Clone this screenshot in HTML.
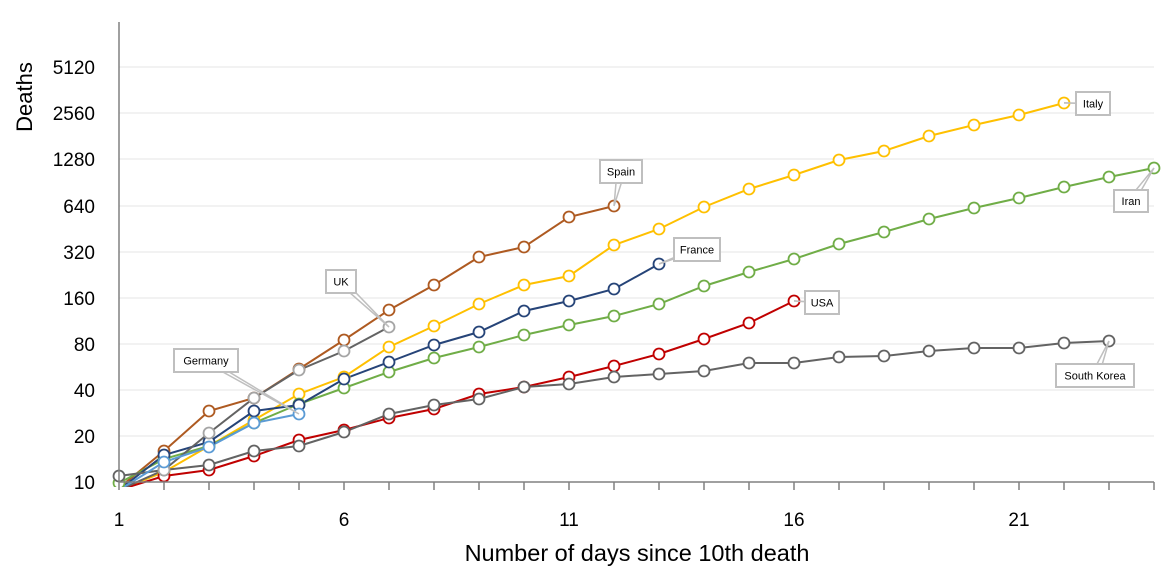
<!DOCTYPE html>
<html><head><meta charset="utf-8"><style>
body{margin:0;background:#fff;}
svg{display:block;font-family:"Liberation Sans",sans-serif;}
</style></head><body>
<svg id="c" width="1176" height="576" xmlns="http://www.w3.org/2000/svg">
<defs><clipPath id="pc"><rect x="100" y="0" width="1076" height="487"/></clipPath></defs>
<g stroke="#ebebeb" stroke-width="1.3">
<line x1="119" x2="1154" y1="436" y2="436"/><line x1="119" x2="1154" y1="390" y2="390"/>
<line x1="119" x2="1154" y1="344" y2="344"/><line x1="119" x2="1154" y1="298" y2="298"/>
<line x1="119" x2="1154" y1="252" y2="252"/><line x1="119" x2="1154" y1="206" y2="206"/>
<line x1="119" x2="1154" y1="159" y2="159"/><line x1="119" x2="1154" y1="113" y2="113"/>
<line x1="119" x2="1154" y1="67" y2="67"/>
</g>
<g font-size="19" fill="#000" text-anchor="end">
<text x="95" y="489">10</text><text x="95" y="443">20</text><text x="95" y="397">40</text>
<text x="95" y="351">80</text><text x="95" y="305">160</text><text x="95" y="259">320</text>
<text x="95" y="213">640</text><text x="95" y="166">1280</text><text x="95" y="120">2560</text>
<text x="95" y="74">5120</text>
</g>
<g font-size="19" text-anchor="middle">
<text x="119" y="526">1</text><text x="344" y="526">6</text><text x="569" y="526">11</text>
<text x="794" y="526">16</text><text x="1019" y="526">21</text>
</g>
<text x="637" y="561" font-size="23.5" text-anchor="middle">Number of days since 10th death</text>
<text transform="translate(32,97) rotate(-90)" font-size="22" text-anchor="middle">Deaths</text>
<g id="series" clip-path="url(#pc)"></g>
<g stroke="#808080" stroke-width="1.5" id="ax">
<line x1="119" y1="22" x2="119" y2="482"/>
<line x1="119" y1="482" x2="1154" y2="482"/>
</g>
<g id="labels"></g>
</svg>
<script>
var S=[
["#ae5a21","#ae5a21",[488,451,411,398,369,340,310,285,257,247,217,206]],
["#ffc000","#ffc000",[490,472,446,420,394,377,347,326,304,285,276,245,229,207,189,175,160,151,136,125,115,103]],
["#70ad47","#70ad47",[483,459,446,423,404,388,372,358,347,335,325,316,304,286,272,259,244,232,219,208,198,187,177,168]],
["#264478","#264478",[490,455,442,411,405,379,362,345,332,311,301,289,264]],
["#c00000","#c00000",[490,476,470,456,440,430,418,409,394,387,377,366,354,339,323,301]],
["#636363","#636363",[476,470,465,451,446,432,414,405,399,387,384,377,374,371,363,363,357,356,351,348,348,343,341]],
["#636363","#a5a5a5",[490,470,433,398,370,351,327]],
["#5b9bd5","#5b9bd5",[490,462,447,423,414]]
];
var NS="http://www.w3.org/2000/svg",g=document.getElementById("series");
function el(n,a,p){var e=document.createElementNS(NS,n);for(var k in a)e.setAttribute(k,a[k]);(p||g).appendChild(e);return e;}
var ax=document.getElementById("ax");
for(var d=1;d<=24;d++){var x=119+45*(d-1);el("line",{x1:x,x2:x,y1:482,y2:490},ax);}
S.forEach(function(s){
 var pts=s[2].map(function(y,i){return (119+45*i)+","+y;}).join(" ");
 el("polyline",{points:pts,fill:"none",stroke:s[0],"stroke-width":2});
});
S.forEach(function(s){
 s[2].forEach(function(y,i){ if(y>=488&&i==0)return; el("circle",{cx:119+45*i,cy:y,r:5.5,fill:"#fff",stroke:s[1],"stroke-width":1.8});});
});
var L=document.getElementById("labels");
var lab=[["Spain",600,160,42,23,614,206],["France",674,238,46,23,659,264],["USA",805,291,34,23,794,301],
["Italy",1076,92,34,23,1064,103],["Iran",1114,190,34,22,1154,168],["South Korea",1056,364,78,23,1109,341],
["UK",326,270,30,23,389,327],["Germany",174,349,64,23,299,414]];
lab.forEach(function(l){
 var cx=l[1]+l[3]/2,cy=l[2]+l[4]/2;
 el("polygon",{points:(cx-4)+","+cy+" "+(cx+4)+","+cy+" "+l[5]+","+l[6],fill:"#fff",stroke:"#bfbfbf","stroke-width":1.5},L);
 el("rect",{x:l[1],y:l[2],width:l[3],height:l[4],fill:"#fff",stroke:"#bfbfbf","stroke-width":2},L);
 var t=el("text",{x:cx,y:cy+4,"font-size":11,"text-anchor":"middle",fill:"#000"},L);t.textContent=l[0];
});
</script>
</body></html>
